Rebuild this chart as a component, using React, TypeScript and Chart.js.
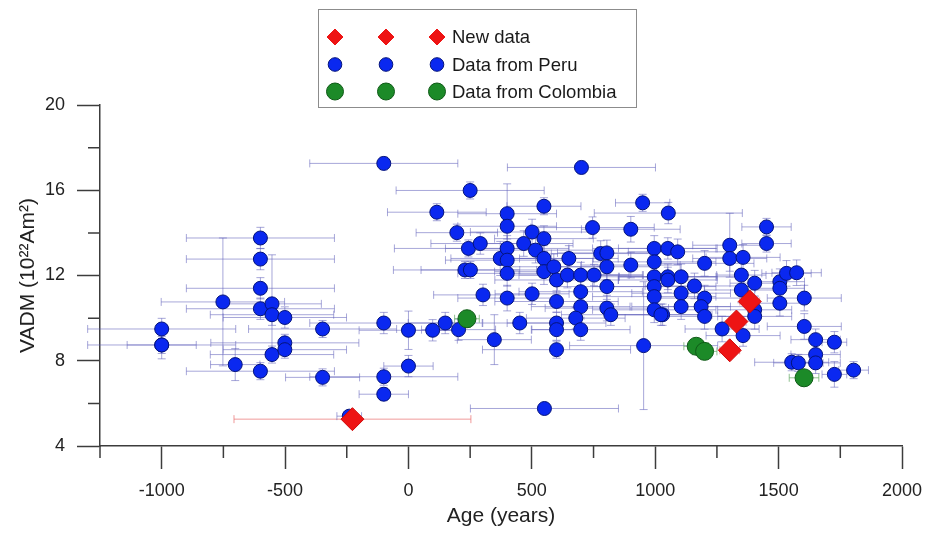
import React, { useEffect, useRef } from 'react';
import { Chart, registerables } from 'chart.js';

Chart.register(...registerables);

// ---------- data ----------
const xMajorTicks = [-1000, -500, 0, 500, 1000, 1500, 2000];
const xMinorTicks = [-1250, -750, -250, 250, 750, 1250, 1750];
const yMajorTicks = [4, 8, 12, 16, 20];
const yMinorTicks = [6, 10, 14, 18];

const newAge = [-227, 1302, 1329, 1383];
const newVadm = [5.26, 8.49, 9.84, 10.78];
const newAgeErr = [480, 40, 30, 40];
const newVadmErr = [0.15, 0.2, 0.2, 0.2];

const colAge = [237, 1166, 1200, 1603];
const colVadm = [9.97, 8.68, 8.44, 7.2];
const colAgeErr = [50, 50, 50, 60];
const colVadmErr = [0.4, 0.3, 0.3, 0.3];

const peruAge = [
  -1000, -1000, -1000, -752, -702, -600, -600, -600, -600, -600,
  -553, -553, -553, -501, -501, -501, -348, -348, -240, -100,
  -100, -100, -100, 0, 0, 98, 149, 203, 115, 196,
  250, 243, 229, 251, 291, 302, 348, 372, 400, 400,
  400, 400, 400, 400, 451, 467, 501, 501, 515, 549,
  549, 549, 549, 589, 600, 600, 600, 600, 600, 551,
  644, 650, 698, 698, 698, 678, 698, 701, 746, 752,
  779, 804, 804, 804, 804, 820, 901, 901, 949, 953,
  996, 996, 996, 996, 996, 996, 1030, 1053, 1051, 1051,
  1051, 1091, 1105, 1105, 1105, 1159, 1200, 1200, 1186, 1200,
  1302, 1302, 1356, 1349, 1403, 1349, 1403, 1403, 1356, 1271,
  1451, 1451, 1505, 1505, 1532, 1573, 1505, 1604, 1604, 1650,
  1726, 1650, 1650, 1553, 1580, 1726, 1804, 1023,
];
const peruVadm = [
  9.49, 8.74, 8.74, 10.76, 7.82, 13.76, 12.77, 11.4, 10.44, 7.51,
  10.67, 10.16, 8.29, 10.03, 8.84, 8.52, 9.49, 7.22, 5.4, 17.26,
  9.77, 7.25, 6.43, 9.43, 7.75, 9.43, 9.77, 9.46, 14.97, 14.01,
  15.99, 13.27, 12.26, 12.26, 13.5, 11.09, 8.99, 12.8, 14.9, 14.31,
  13.27, 12.72, 12.1, 10.94, 9.77, 13.5, 14.04, 11.14, 13.19, 15.25,
  13.73, 12.8, 12.18, 12.41, 11.79, 10.78, 9.77, 9.46, 8.52, 5.76,
  12.02, 12.8, 12.02, 11.24, 10.54, 10.0, 9.46, 17.07, 14.25, 12.02,
  13.03, 13.06, 12.41, 11.48, 10.47, 10.16, 14.17, 12.49, 15.41, 8.71,
  13.27, 12.64, 11.94, 11.48, 11.01, 10.39, 10.16, 14.93, 13.27, 11.94,
  11.79, 13.11, 11.94, 11.17, 10.54, 11.51, 12.57, 10.94, 10.54, 10.08,
  13.42, 12.8, 12.85, 12.02, 11.64, 11.32, 10.39, 10.08, 9.18, 9.49,
  14.28, 13.5, 11.71, 11.4, 12.1, 12.13, 10.7, 10.94, 9.61, 8.99,
  8.87, 8.29, 7.9, 7.93, 7.9, 7.36, 7.56, 10.16,
];
const peruAgeErr = [
  300, 300, 140, 250, 100, 300, 300, 300, 300, 300,
  200, 250, 250, 250, 300, 250, 300, 150, 50, 300,
  300, 300, 100, 200, 100, 100, 150, 150, 200, 165,
  300, 300, 290, 200, 200, 200, 150, 200, 200, 200,
  250, 250, 200, 200, 150, 200, 250, 150, 250, 150,
  200, 200, 200, 200, 250, 250, 200, 100, 300, 300,
  250, 200, 250, 250, 200, 200, 200, 300, 250, 200,
  200, 200, 200, 200, 250, 200, 200, 200, 110, 300,
  250, 250, 250, 250, 250, 250, 200, 300, 200, 200,
  200, 200, 250, 200, 200, 200, 200, 200, 200, 200,
  150, 150, 150, 100, 100, 150, 150, 150, 150, 150,
  100, 100, 100, 100, 100, 100, 100, 150, 150, 100,
  50, 100, 100, 150, 100, 50, 60, 200,
];
const peruVadmErr = [
  0.5, 0.65, 0.4, 3.0, 0.75, 0.5, 0.5, 0.5, 0.5, 0.4,
  2.3, 0.5, 0.4, 0.5, 0.4, 0.4, 0.4, 0.4, 0.2, 0.3,
  0.5, 0.4, 0.3, 0.9, 0.5, 0.5, 0.5, 0.5, 0.4, 0.4,
  0.4, 0.4, 0.4, 0.4, 0.5, 0.5, 1.17, 0.8, 1.4, 0.6,
  0.6, 0.6, 0.6, 0.6, 0.5, 0.6, 0.6, 0.5, 0.6, 0.4,
  0.6, 0.6, 0.6, 0.6, 0.6, 0.5, 0.5, 0.5, 0.4, 0.2,
  0.6, 0.6, 0.6, 0.6, 0.5, 0.5, 0.5, 0.3, 0.5, 0.5,
  0.6, 0.6, 0.6, 0.6, 0.6, 0.5, 0.6, 0.6, 0.4, 3.0,
  0.6, 0.6, 0.6, 0.6, 0.6, 0.6, 0.5, 0.5, 0.5, 0.6,
  0.6, 0.6, 0.6, 0.6, 0.6, 0.6, 0.6, 0.6, 0.6, 0.6,
  1.5, 0.6, 0.6, 0.6, 0.6, 0.6, 0.6, 0.6, 0.5, 0.6,
  0.4, 0.4, 0.6, 0.6, 0.6, 0.6, 0.6, 0.6, 0.6, 0.5,
  0.5, 0.5, 0.5, 0.4, 0.4, 0.6, 0.4, 0.5,
];

const seriesLabels = ['New data', 'Data from Peru', 'Data from Colombia'];

// ---------- styles ----------
const FONT = '"Liberation Sans", Arial, Helvetica, sans-serif';
const RED = '#ee1414';
const BLUE = '#0a28f0';
const BLUE_EDGE = '#04137a';
const GREEN = '#1c8a28';
const GREEN_EDGE = '#0f5a17';
const AXIS = '#3c3c3c';

const errInfo = [
  { xe: newAgeErr, ye: newVadmErr, color: 'rgba(235,120,120,0.75)' },
  { xe: peruAgeErr, ye: peruVadmErr, color: 'rgba(95,95,185,0.55)' },
  { xe: colAgeErr, ye: colVadmErr, color: 'rgba(100,170,100,0.7)' },
];

const errorBarPlugin = {
  id: 'errorBars',
  beforeDatasetsDraw(chart: any) {
    const { ctx } = chart;
    const xs = chart.scales.x;
    const ys = chart.scales.y;
    ctx.save();
    ctx.lineWidth = 1;
    chart.data.datasets.forEach((ds: any, i: number) => {
      const info = errInfo[i];
      ctx.strokeStyle = info.color;
      ds.data.forEach((p: any, j: number) => {
        const xe = info.xe[j];
        const ye = info.ye[j];
        const px = xs.getPixelForValue(p.x);
        const py = ys.getPixelForValue(p.y);
        const xl = xs.getPixelForValue(p.x - xe);
        const xr = xs.getPixelForValue(p.x + xe);
        const yt = ys.getPixelForValue(p.y + ye);
        const yb = ys.getPixelForValue(p.y - ye);
        const c = 4;
        ctx.beginPath();
        ctx.moveTo(xl, py); ctx.lineTo(xr, py);
        ctx.moveTo(xl, py - c); ctx.lineTo(xl, py + c);
        ctx.moveTo(xr, py - c); ctx.lineTo(xr, py + c);
        ctx.moveTo(px, yt); ctx.lineTo(px, yb);
        ctx.moveTo(px - c, yt); ctx.lineTo(px + c, yt);
        ctx.moveTo(px - c, yb); ctx.lineTo(px + c, yb);
        ctx.stroke();
      });
    });
    ctx.restore();
  },
};

const minorTickPlugin = {
  id: 'minorTicks',
  afterDraw(chart: any) {
    const { ctx } = chart;
    const xs = chart.scales.x;
    const ys = chart.scales.y;
    const area = chart.chartArea;
    ctx.save();
    ctx.strokeStyle = AXIS;
    ctx.lineWidth = 1.5;
    ctx.beginPath();
    xMinorTicks.forEach((v) => {
      const px = xs.getPixelForValue(v);
      ctx.moveTo(px, area.bottom);
      ctx.lineTo(px, area.bottom + 12);
    });
    yMinorTicks.forEach((v) => {
      const py = ys.getPixelForValue(v);
      ctx.moveTo(area.left, py);
      ctx.lineTo(area.left - 12, py);
    });
    ctx.stroke();
    ctx.restore();
  },
};

function drawMarker(ctx: CanvasRenderingContext2D, kind: string, x: number, y: number, r: number, fill: string, edge: string) {
  ctx.beginPath();
  if (kind === 'diamond') {
    ctx.moveTo(x - r, y);
    ctx.lineTo(x, y - r);
    ctx.lineTo(x + r, y);
    ctx.lineTo(x, y + r);
    ctx.closePath();
  } else {
    ctx.arc(x, y, r, 0, Math.PI * 2);
  }
  ctx.fillStyle = fill;
  ctx.fill();
  ctx.strokeStyle = edge;
  ctx.lineWidth = 1;
  ctx.stroke();
}

const legendPlugin = {
  id: 'customLegend',
  afterDraw(chart: any) {
    const { ctx } = chart;
    ctx.save();
    ctx.fillStyle = '#ffffff';
    ctx.fillRect(318.5, 9.5, 318, 98);
    ctx.strokeStyle = '#8c8c8c';
    ctx.lineWidth = 1;
    ctx.strokeRect(318.5, 9.5, 318, 98);
    const rows = [
      { kind: 'diamond', r: 8, fill: RED, edge: RED, y: 37 },
      { kind: 'circle', r: 6.8, fill: BLUE, edge: BLUE_EDGE, y: 64.5 },
      { kind: 'circle', r: 8.5, fill: GREEN, edge: GREEN_EDGE, y: 91.5 },
    ];
    const xs = [335, 386, 437];
    rows.forEach((row, i) => {
      xs.forEach((x) => drawMarker(ctx, row.kind, x, row.y, row.r, row.fill, row.edge));
      ctx.fillStyle = '#1a1a1a';
      ctx.font = `18.5px ${FONT}`;
      ctx.textAlign = 'left';
      ctx.textBaseline = 'middle';
      ctx.fillText(seriesLabels[i], 452, row.y + 1);
    });
    ctx.restore();
  },
};

function toPoints(xs: number[], ys: number[]) {
  return xs.map((x, i) => ({ x, y: ys[i] }));
}

export default function App() {
  const canvasRef = useRef<HTMLCanvasElement | null>(null);

  useEffect(() => {
    if (!canvasRef.current) return;
    Chart.defaults.font.family = FONT;
    const chart = new Chart(canvasRef.current, {
      type: 'scatter',
      data: {
        datasets: [
          {
            label: seriesLabels[0],
            data: toPoints(newAge, newVadm),
            pointStyle: 'rectRot',
            pointRadius: 11.5,
            backgroundColor: RED,
            borderColor: '#d00a0a',
            borderWidth: 1,
            order: 0,
            clip: false,
          },
          {
            label: seriesLabels[1],
            data: toPoints(peruAge, peruVadm),
            pointStyle: 'circle',
            pointRadius: 7,
            backgroundColor: BLUE,
            borderColor: BLUE_EDGE,
            borderWidth: 1,
            order: 2,
            clip: false,
          },
          {
            label: seriesLabels[2],
            data: toPoints(colAge, colVadm),
            pointStyle: 'circle',
            pointRadius: 9,
            backgroundColor: GREEN,
            borderColor: GREEN_EDGE,
            borderWidth: 1,
            order: 1,
            clip: false,
          },
        ],
      },
      options: {
        responsive: false,
        animation: false,
        events: [],
        layout: { padding: { top: 105, right: 23, left: 0, bottom: 0 } },
        plugins: {
          legend: { display: false },
          tooltip: { enabled: false },
        },
        scales: {
          x: {
            type: 'linear',
            min: -1250,
            max: 2000,
            afterBuildTicks: (scale: any) => {
              scale.ticks = xMajorTicks.map((v) => ({ value: v }));
            },
            afterFit: (scale: any) => {
              scale.height = 88;
              scale.paddingLeft = 0;
              scale.paddingRight = 0;
            },
            grid: {
              display: true,
              drawOnChartArea: false,
              drawTicks: true,
              tickLength: 23,
              tickColor: AXIS,
              tickWidth: 1.5,
            },
            border: { display: true, color: AXIS, width: 1.5 },
            ticks: {
              autoSkip: false,
              maxRotation: 0,
              padding: 11,
              color: '#222',
              font: { size: 18, family: FONT },
              callback: (v: any) => String(v),
            },
            title: {
              display: true,
              text: 'Age (years)',
              color: '#222',
              font: { size: 21, family: FONT },
              padding: { top: 0, bottom: 5 },
            },
          },
          y: {
            type: 'linear',
            min: 4,
            max: 20,
            afterBuildTicks: (scale: any) => {
              scale.ticks = yMajorTicks.map((v) => ({ value: v }));
            },
            afterFit: (scale: any) => {
              scale.width = 100;
              scale.paddingTop = 0;
              scale.paddingBottom = 0;
            },
            grid: {
              display: true,
              drawOnChartArea: false,
              drawTicks: true,
              tickLength: 23,
              tickColor: AXIS,
              tickWidth: 1.5,
            },
            border: { display: true, color: AXIS, width: 1.5 },
            ticks: {
              autoSkip: false,
              padding: 12,
              color: '#222',
              font: { size: 18, family: FONT },
              callback: (v: any) => String(v),
            },
            title: {
              display: true,
              text: 'VADM (10²²Am²)',
              color: '#222',
              font: { size: 21, family: FONT },
              padding: { top: 16, bottom: 0 },
            },
          },
        },
      },
      plugins: [errorBarPlugin, minorTickPlugin, legendPlugin],
    } as any);
    return () => chart.destroy();
  }, []);

  return (
    <div style={{ position: 'fixed', left: 0, top: 0, width: 925, height: 534, background: '#fff' }}>
      <canvas ref={canvasRef} width={925} height={534} style={{ display: 'block' }} />
    </div>
  );
}
